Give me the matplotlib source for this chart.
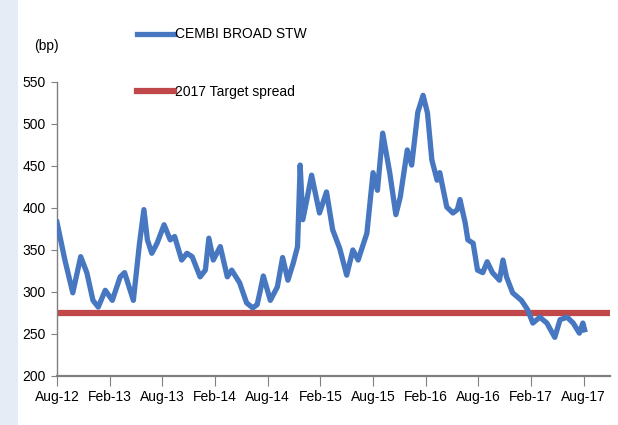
import matplotlib
matplotlib.use("Agg")
import matplotlib.pyplot as plt
from matplotlib.patches import Rectangle

plt.rcParams['font.family'] = ['Liberation Sans', 'DejaVu Sans']

# months since Aug-12 and spread in bp
months = [0, 0.9, 1.8, 2.7, 3.4, 4.1, 4.7, 5.5, 6.3, 7.2, 7.7, 8.7, 9.4, 9.9,
          10.3, 10.8, 11.4, 12.2, 12.9, 13.4, 14.2, 14.8, 15.4, 16.3, 16.9,
          17.3, 17.8, 18.6, 19.4, 19.9, 20.8, 21.6, 22.3, 22.8, 23.1, 23.5,
          24.3, 25.1, 25.7, 26.3, 26.9, 27.4, 27.7, 28.0, 28.5, 29.0, 29.9,
          30.7, 31.4, 32.2, 33.0, 33.7, 34.3, 35.3, 36.0, 36.5, 37.1, 37.9,
          38.6, 39.1, 39.9, 40.4, 41.1, 41.7, 42.2, 42.7, 43.3, 43.6, 44.4,
          45.1, 45.6, 45.9, 46.5, 46.8, 47.4, 47.9, 48.5, 49.0, 49.6, 50.4,
          50.8, 51.2, 51.9, 52.9, 53.6, 54.2, 55.0, 55.8, 56.7, 57.3, 58.1,
          58.8, 59.5, 59.9, 60.1]
cembi = [383, 338, 299, 342, 323, 290, 282, 302, 290, 318, 323, 290, 358, 398,
         362, 346, 358, 380, 362, 366, 338, 346, 342, 318, 326,
         364, 338, 354, 318, 326, 311, 287, 281, 285, 299, 319,
         290, 306, 341, 314, 334, 354, 451, 386, 412, 439, 394,
         419, 374, 352, 320, 350, 338, 370, 442, 421, 489, 442,
         392, 413, 469, 451, 514, 534, 513, 457, 433, 442, 401,
         394, 398, 410, 382, 362, 358, 326, 323, 336, 323, 314,
         338, 318, 299, 290, 279, 263, 270, 263, 246, 267, 270,
         263, 251, 263, 255]
target = 275

tick_months = [0, 6, 12, 18, 24, 30, 36, 42, 48, 54, 60]
tick_labels = ["Aug-12", "Feb-13", "Aug-13", "Feb-14", "Aug-14", "Feb-15",
               "Aug-15", "Feb-16", "Aug-16", "Feb-17", "Aug-17"]
y_ticks = [200, 250, 300, 350, 400, 450, 500, 550]

fs = 10

fig = plt.figure(figsize=(6.18, 4.25), dpi=100)
fig.patches.append(Rectangle((0, 0), 18 / 618, 1, transform=fig.transFigure,
                             facecolor="#e6ecf6", edgecolor="none", zorder=0))

ax = fig.add_axes([0.0922, 0.1153, 0.895, 0.692])
ax.plot(months, cembi, color="#4677c0", lw=3.8, solid_joinstyle="round",
        label="CEMBI BROAD STW", zorder=3)
ax.axhline(target, color="#c0484a", lw=4.5, label="2017 Target spread", zorder=2)

ax.set_xlim(0, 63)
ax.set_ylim(200, 550)
ax.set_xticks(tick_months)
ax.set_xticklabels(tick_labels)
ax.set_yticks(y_ticks)

for s in ["top", "right"]:
    ax.spines[s].set_visible(False)
ax.spines["left"].set_color("#808080")
ax.spines["bottom"].set_color("#808080")
ax.spines["left"].set_linewidth(1.0)
ax.spines["bottom"].set_linewidth(1.6)
ax.tick_params(axis="y", length=4, color="#808080", labelsize=fs, pad=4)
ax.tick_params(axis="x", length=7, color="#808080", labelsize=fs, pad=3)

fig.text(46 / 618, 1 - 46 / 425, "(bp)", ha="center", va="center", fontsize=fs)

fig.legend(loc="upper left", bbox_to_anchor=(124 / 618, 1 - 15 / 425),
           frameon=False, fontsize=fs, handlelength=2.7, handletextpad=0.05,
           labelspacing=3.15)

fig.savefig("out.png", dpi=100)
